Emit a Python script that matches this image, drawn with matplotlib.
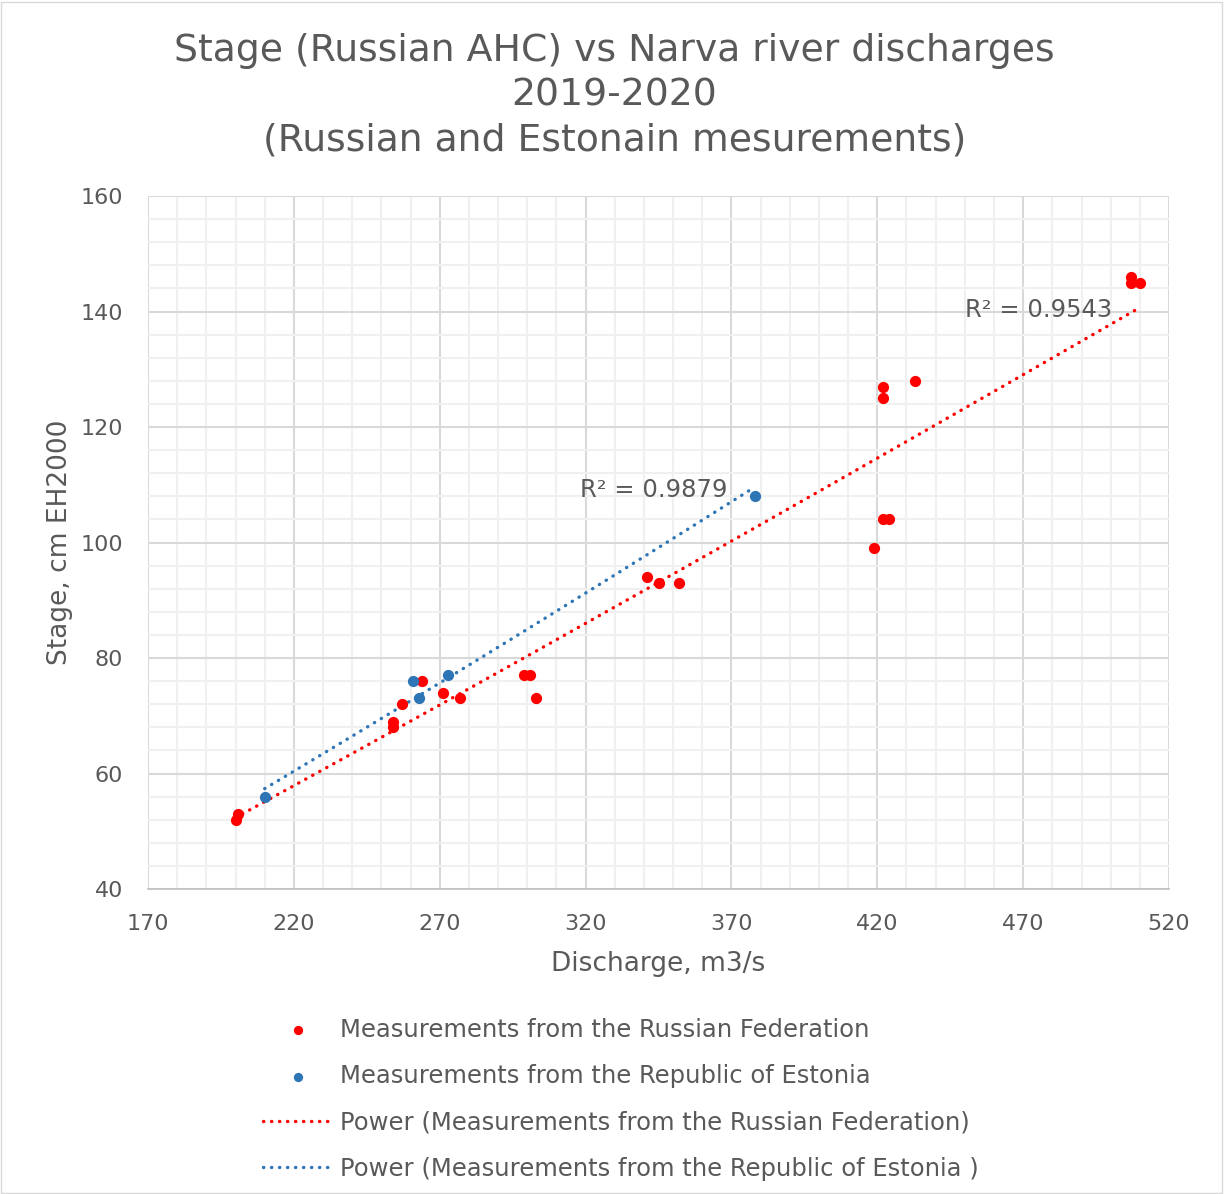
import numpy as np
import matplotlib.pyplot as plt
from matplotlib.patches import Rectangle
from matplotlib.ticker import MultipleLocator, FixedLocator

# Data
ru_discharge = [200, 201, 254, 254, 257, 264, 271, 277, 299, 301, 303,
                341, 345, 352, 419, 422, 424, 422, 422, 433, 507, 507, 510]
ru_stage = [52, 53, 68, 69, 72, 76, 74, 73, 77, 77, 73,
            94, 93, 93, 99, 104, 104, 125, 127, 128, 146, 145, 145]

ee_discharge = [210, 261, 263, 273, 378]
ee_stage = [56, 76, 73, 77, 108]

x_ticks = [170, 220, 270, 320, 370, 420, 470, 520]

ru_r2 = "R² = 0.9543"
ee_r2 = "R² = 0.9879"

ru_label = "Measurements from the Russian Federation"
ee_label = "Measurements from the Republic of Estonia"

red = "#ff0000"
blue = "#2e75b6"
grey = "#595959"


def power_fit(x, y):
    # Excel style power trendline: fit in log-log space
    b, ln_a = np.polyfit(np.log(x), np.log(y), 1)
    xs = np.linspace(min(x), max(x), 100)
    return xs, np.exp(ln_a) * xs ** b


fig = plt.figure(figsize=(12.24, 11.94), dpi=100)
ax = fig.add_axes([0.1209, 0.2554, 0.8342, 0.5804])

ax.set_xlim(170, 520)
ax.set_ylim(40, 160)
ax.xaxis.set_major_locator(FixedLocator(x_ticks))
ax.xaxis.set_minor_locator(FixedLocator(np.arange(170, 521, 10)))
ax.yaxis.set_major_locator(MultipleLocator(20))
ax.yaxis.set_minor_locator(MultipleLocator(4))
ax.grid(which='minor', color='#f0f0f0', linewidth=1.5)
ax.grid(which='major', color='#d9d9d9', linewidth=1.5)
ax.set_axisbelow(True)
for s in ['left', 'right', 'top']:
    ax.spines[s].set_visible(False)
ax.spines['bottom'].set_color('#bfbfbf')
ax.spines['bottom'].set_linewidth(1.2)
ax.tick_params(which='both', length=0, labelsize=16, labelcolor=grey)
ax.tick_params(axis='x', pad=18)
ax.tick_params(axis='y', pad=18)

ax.scatter(ru_discharge, ru_stage, s=50, color=red, zorder=3, label=ru_label)
ax.scatter(ee_discharge, ee_stage, s=50, color=blue, zorder=3, label=ee_label)

xs, ys = power_fit(ru_discharge, ru_stage)
ax.plot(xs, ys, color=red, lw=2.4, linestyle=(0, (0.1, 2.3)),
        dash_capstyle='round', zorder=2,
        label="Power (Measurements from the Russian Federation)")
xs, ys = power_fit(ee_discharge, ee_stage)
ax.plot(xs, ys, color=blue, lw=2.4, linestyle=(0, (0.1, 2.3)),
        dash_capstyle='round', zorder=2,
        label="Power (Measurements from the Republic of Estonia )")

ax.text(450, 140.3, ru_r2, fontsize=17.5, color=grey, va='center', ha='left')
ax.text(318, 109.1, ee_r2, fontsize=17.5, color=grey, va='center', ha='left')

ax.set_xlabel("Discharge, m3/s", fontsize=19, color=grey, labelpad=12)
ax.set_ylabel("Stage, cm EH2000", fontsize=19, color=grey, labelpad=5)

fig.text(0.502, 0.920,
         "Stage (Russian AHC) vs Narva river discharges\n2019-2020\n(Russian and Estonain mesurements)",
         ha='center', va='center', fontsize=27.2, color=grey, linespacing=1.31)

leg = fig.legend(loc='upper left', bbox_to_anchor=(0.197, 0.166),
                 frameon=False, fontsize=17.5, labelcolor=grey,
                 handlelength=2.9, handletextpad=0.25, labelspacing=0.92,
                 markerscale=0.8)

fig.add_artist(Rectangle((0.001, 0.001), 0.997, 0.997, transform=fig.transFigure,
                         fill=False, edgecolor='#d9d9d9', linewidth=1))

fig.savefig("out.png", dpi=100)
